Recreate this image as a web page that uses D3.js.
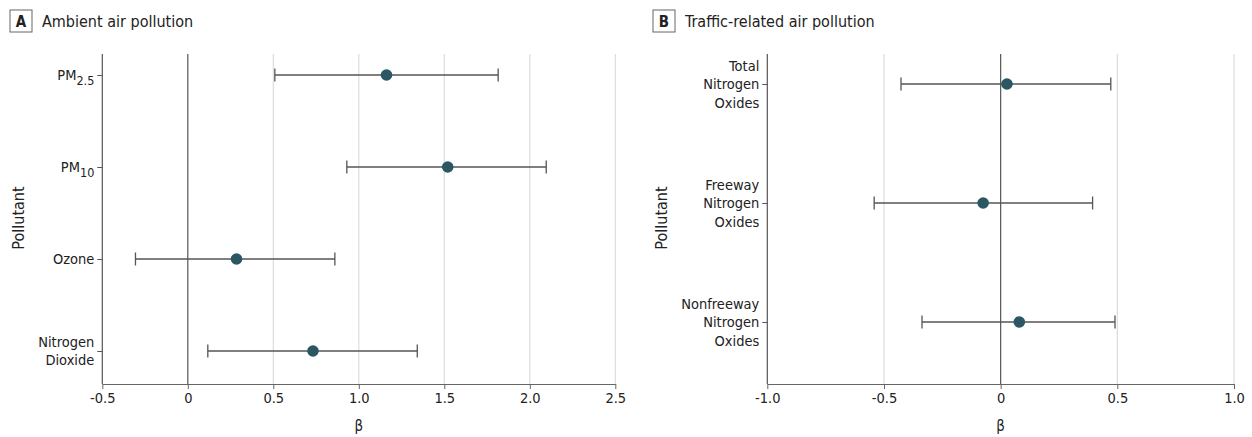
<!DOCTYPE html>
<html>
<head>
<meta charset="utf-8">
<script src="https://cdn.jsdelivr.net/npm/d3@7"></script>
<style>
  body { margin: 0; background: #fff; }
  svg text { font-family: "Liberation Sans Narrow", "DejaVu Sans Condensed", "Roboto", sans-serif; fill: #222; }
</style>
</head>
<body>
<svg id="chart"></svg>
<script>
// panel A - ambient air pollution
const ambientLabels = ["PM_2.5", "PM_10", "Ozone", "Nitrogen\nDioxide"];
const ambientBeta = [1.162, 1.52, 0.285, 0.732];
const ambientLower = [0.509, 0.93, -0.306, 0.117];
const ambientUpper = [1.815, 2.096, 0.86, 1.342];
const ambientTicks = [-0.5, 0, 0.5, 1.0, 1.5, 2.0, 2.5];

// panel B - traffic-related air pollution
const trafficLabels = ["Total\nNitrogen\nOxides", "Freeway\nNitrogen\nOxides", "Nonfreeway\nNitrogen\nOxides"];
const trafficBeta = [0.027, -0.075, 0.08];
const trafficLower = [-0.427, -0.542, -0.337];
const trafficUpper = [0.472, 0.394, 0.49];
const trafficTicks = [-1.0, -0.5, 0, 0.5, 1.0];

const width = 1252;
const height = 437;

const svg = d3.select('#chart')
  .attr('width', width)
  .attr('height', height);

// plain hyphen for negatives, like the original
const fmt = v => v === 0 ? '0' : d3.format('.1f')(v).replace('\u2212', '-');

function drawPanel(opt) {
  const g = svg.append('g');
  const x = d3.scaleLinear().domain(opt.domain).range([opt.left, opt.right]);
  const y = d3.scalePoint().domain(opt.labels).range(opt.yRange);

  // panel letter + title
  g.append('rect')
    .attr('x', opt.boxX).attr('y', 10).attr('width', 22).attr('height', 22)
    .style('fill', 'none').style('stroke', '#666').style('stroke-width', 1);
  g.append('text')
    .attr('x', opt.boxX + 11).attr('y', 27)
    .attr('text-anchor', 'middle')
    .style('font-size', '15px').style('font-weight', 'bold')
    .text(opt.letter);
  g.append('text')
    .attr('x', opt.boxX + 32).attr('y', 27)
    .style('font-size', '16px')
    .text(opt.title);

  // grid lines
  g.selectAll('line.grid')
    .data(opt.ticks.filter(t => t !== opt.domain[0]))
    .enter()
    .append('line')
    .attr('x1', d => x(d)).attr('x2', d => x(d))
    .attr('y1', opt.top).attr('y2', opt.bottom)
    .style('stroke', d => d === 0 ? '#555' : '#dcdcdc')
    .style('stroke-width', 1.2);

  // x axis
  const xAxis = g.append('g')
    .attr('transform', `translate(0,${opt.bottom})`)
    .call(d3.axisBottom(x).tickValues(opt.ticks).tickFormat(fmt).tickSize(5).tickSizeOuter(0));
  xAxis.select('.domain').style('stroke', '#666').style('stroke-width', 1.2);
  xAxis.selectAll('.tick line').style('stroke', '#666');
  xAxis.selectAll('.tick text')
    .attr('y', 9)
    .style('font-size', '14.5px').style('font-family', null);

  // y axis
  const yAxis = g.append('g')
    .attr('transform', `translate(${opt.left},0)`)
    .call(d3.axisLeft(y).tickSize(5).tickSizeOuter(0).tickFormat(''));
  yAxis.select('.domain')
    .attr('d', `M0,${opt.top}V${opt.bottom}`)
    .style('stroke', '#555').style('stroke-width', 1.2);
  yAxis.selectAll('.tick line').style('stroke', '#555');

  // y tick labels, multi-line with subscripts
  opt.labels.forEach(lab => {
    const lines = lab.split('\n');
    const t = g.append('text')
      .attr('x', opt.left - 8)
      .attr('y', y(lab))
      .attr('text-anchor', 'end')
      .style('font-size', '14.5px');
    lines.forEach((ln, i) => {
      const dy = i === 0 ? (-(lines.length - 1) / 2 * 18.5 + 5) : 18.5;
      const parts = ln.split('_');
      t.append('tspan').attr('x', opt.left - 8).attr('dy', dy).text(parts[0]);
      if (parts[1]) {
        t.append('tspan').attr('dy', 5).style('font-size', '12.5px').text(parts[1]);
      }
    });
  });

  // axis titles
  g.append('text')
    .attr('transform', `translate(${opt.yTitleX},218) rotate(-90)`)
    .attr('text-anchor', 'middle')
    .style('font-size', '16px')
    .text('Pollutant');
  g.append('text')
    .attr('x', (opt.left + opt.right) / 2).attr('y', 431)
    .attr('text-anchor', 'middle')
    .style('font-size', '15px')
    .text('β');

  const rows = opt.labels.map((l, i) => ({ label: l, beta: opt.beta[i], lo: opt.lower[i], hi: opt.upper[i] }));

  // error bars
  g.selectAll('line.ci')
    .data(rows)
    .enter()
    .append('line')
    .attr('x1', d => x(d.lo)).attr('x2', d => x(d.hi))
    .attr('y1', d => y(d.label)).attr('y2', d => y(d.label))
    .style('stroke', '#555').style('stroke-width', 1.3);
  ['lo', 'hi'].forEach(k => {
    g.selectAll('line.cap-' + k)
      .data(rows)
      .enter()
      .append('line')
      .attr('x1', d => x(d[k])).attr('x2', d => x(d[k]))
      .attr('y1', d => y(d.label) - 6.5).attr('y2', d => y(d.label) + 6.5)
      .style('stroke', '#555').style('stroke-width', 1.3);
  });

  // points
  g.selectAll('circle')
    .data(rows)
    .enter()
    .append('circle')
    .attr('cx', d => x(d.beta))
    .attr('cy', d => y(d.label))
    .attr('r', 5.8)
    .style('fill', '#2b5664');
}

drawPanel({
  letter: 'A', title: 'Ambient air pollution', boxX: 10, yTitleX: 24,
  labels: ambientLabels, beta: ambientBeta, lower: ambientLower, upper: ambientUpper,
  ticks: ambientTicks, domain: [-0.5, 2.5],
  left: 102.3, right: 615.3, top: 54, bottom: 384, yRange: [75, 351]
});

drawPanel({
  letter: 'B', title: 'Traffic-related air pollution', boxX: 653, yTitleX: 667,
  labels: trafficLabels, beta: trafficBeta, lower: trafficLower, upper: trafficUpper,
  ticks: trafficTicks, domain: [-1, 1],
  left: 767.3, right: 1234, top: 54, bottom: 384, yRange: [84, 322]
});
</script>
</body>
</html>
